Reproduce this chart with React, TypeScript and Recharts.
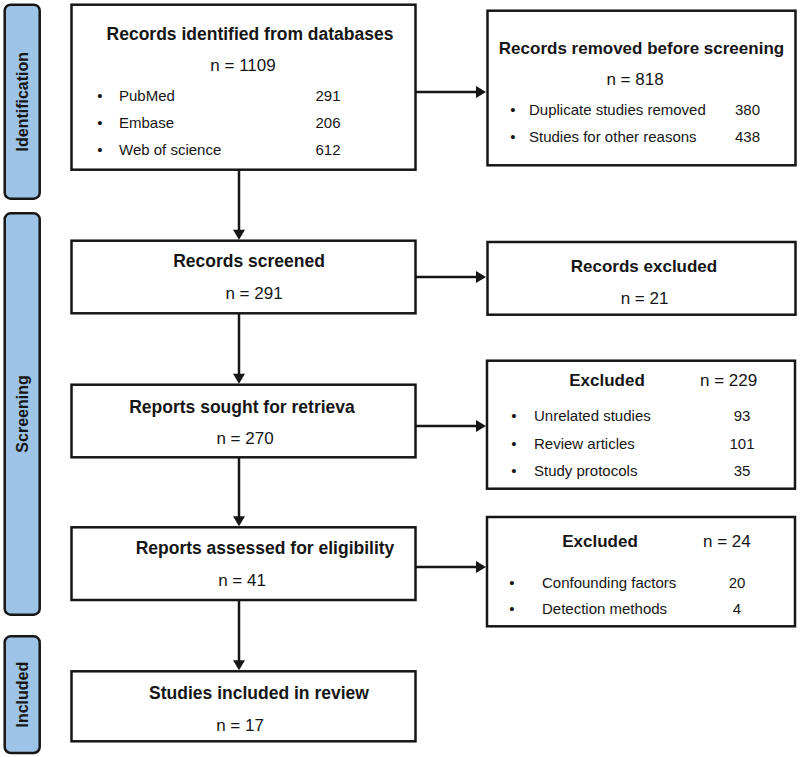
import React from 'react';
import { ComposedChart, XAxis, YAxis, ReferenceArea, ReferenceLine, Rectangle } from 'recharts';

const FONT = '"Liberation Sans", Arial, Helvetica, sans-serif';
const INK = '#161616';
const BAND = '#9dc3e6';

// ---- content ----
const stages = ['Identification', 'Screening', 'Included'];

const mainTitles = [
    'Records identified from databases',
    'Records screened',
    'Reports sought for retrieva',
    'Reports assessed for eligibility',
    'Studies included in review',
];
const mainCounts = [1109, 291, 270, 41, 17];

const sourceNames = ['PubMed', 'Embase', 'Web of science'];
const sourceCounts = [291, 206, 612];

const sideTitles = ['Records removed before screening', 'Records excluded', 'Excluded', 'Excluded'];
const sideCounts = [818, 21, 229, 24];

const removedReasons = ['Duplicate studies removed', 'Studies for other reasons'];
const removedCounts = [380, 438];
const retrievalReasons = ['Unrelated studies', 'Review articles', 'Study protocols'];
const retrievalCounts = [93, 101, 35];
const eligibilityReasons = ['Confounding factors', 'Detection methods'];
const eligibilityCounts = [20, 4];

// ---- layout (chart units == pixels) ----
const W = 800;
const H = 757;
const mainX = [71.5, 415.5];
const mainRows = [[4.7, 169.7], [240.7, 313.3], [384.7, 457.3], [527.3, 600], [671.3, 741.3]];
const sideX = [487.5, 795.5];
const sideRows = [[10.7, 165.3], [242, 314.7], [360.7, 488.7], [517, 626.3]];
const stageX = [4.7, 39.7];
const stageRows = [[4.7, 198.7], [213.3, 614.7], [636.3, 753]];
const flowX = 239;
const exitY = [92, 277, 426, 567];

const mainText = [
    { dx: 6.5, ty: 29, nx: -0.5, ny: 61 },
    { dx: 5.5, ty: 20.5, nx: 10.5, ny: 52.5 },
    { dx: -1.5, ty: 22, nx: 1.5, ny: 53.5 },
    { dx: 21.5, ty: 21, nx: -1.5, ny: 53 },
    { dx: 15.5, ty: 22, nx: -3.5, ny: 54 },
];
const sideText = [
    { tx: 0, ty: 38, nx: -6.5, ny: 69, inline: false, bx: 25.5, lx: 41.5, vx: 260, by: 99, step: 27 },
    { tx: 2.5, ty: 24, nx: 3, ny: 56, inline: false, bx: 0, lx: 0, vx: 0, by: 0, step: 0 },
    { tx: 120, ty: 19.5, nx: 213, ny: 19.5, inline: true, bx: 27, lx: 47, vx: 255, by: 55, step: 27.5 },
    { tx: 113, ty: 24, nx: 216, ny: 24, inline: true, bx: 25, lx: 55, vx: 250, by: 65, step: 26 },
];
const sideLists = [
    [removedReasons, removedCounts],
    [[], []],
    [retrievalReasons, retrievalCounts],
    [eligibilityReasons, eligibilityCounts],
];

const txt = { fontFamily: FONT, fill: INK, dominantBaseline: 'central' as const };

function StageBand(props: any) {
    const { x, y, width, height, name } = props;
    const cx = x + width / 2;
    const cy = y + height / 2;
    return (
        <g>
            <Rectangle x={x} y={y} width={width} height={height} radius={6} fill={BAND} stroke={INK} strokeWidth={2.5} />
            <text {...txt} x={cx} y={cy} textAnchor="middle" fontSize={16} fontWeight="bold"
                  transform={`rotate(-90 ${cx} ${cy})`}>{name}</text>
        </g>
    );
}

function BulletRow(props: any) {
    const { x, y, bx, lx, vx, label, value } = props;
    return (
        <g>
            <text {...txt} x={x + bx} y={y} fontSize={15} textAnchor="middle">•</text>
            <text {...txt} x={x + lx} y={y} fontSize={15}>{label}</text>
            <text {...txt} x={x + vx} y={y} fontSize={15} textAnchor="middle">{value}</text>
        </g>
    );
}

function MainBox(props: any) {
    const { x, y, width, height, idx } = props;
    const t = mainText[idx];
    const cx = x + width / 2;
    return (
        <g>
            <rect x={x} y={y} width={width} height={height} fill="#fff" stroke={INK} strokeWidth={2.5} />
            <text {...txt} x={cx + t.dx} y={y + t.ty} textAnchor="middle" fontSize={17.5} fontWeight="bold">{mainTitles[idx]}</text>
            <text {...txt} x={cx + t.nx} y={y + t.ny} textAnchor="middle" fontSize={17}>{`n = ${mainCounts[idx]}`}</text>
            {idx === 0 && sourceNames.map((s, k) => (
                <BulletRow key={s} x={x} y={y + 91 + 27 * k} bx={28.5} lx={47.5} vx={256.5} label={s} value={sourceCounts[k]} />
            ))}
        </g>
    );
}

function SideBox(props: any) {
    const { x, y, width, height, idx } = props;
    const t = sideText[idx];
    const [labels, values] = sideLists[idx] as [string[], number[]];
    const cx = x + width / 2;
    return (
        <g>
            <rect x={x} y={y} width={width} height={height} fill="#fff" stroke={INK} strokeWidth={2.5} />
            <text {...txt} x={t.inline ? x + t.tx : cx + t.tx} y={y + t.ty} textAnchor="middle" fontSize={17} fontWeight="bold">{sideTitles[idx]}</text>
            <text {...txt} x={t.inline ? x + t.nx : cx + t.nx} y={y + t.ny} textAnchor={t.inline ? 'start' : 'middle'} fontSize={17}>{`n = ${sideCounts[idx]}`}</text>
            {labels.map((s, k) => (
                <BulletRow key={s} x={x} y={y + t.by + t.step * k} bx={t.bx} lx={t.lx} vx={t.vx} label={s} value={values[k]} />
            ))}
        </g>
    );
}

function Arrow(props: any) {
    const { x1, y1, x2, y2 } = props;
    const len = Math.hypot(x2 - x1, y2 - y1) || 1;
    const ux = (x2 - x1) / len;
    const uy = (y2 - y1) / len;
    const hl = 10;
    const hw = 6;
    const bx = x2 - ux * hl;
    const by = y2 - uy * hl;
    return (
        <g>
            <line x1={x1} y1={y1} x2={bx + ux} y2={by + uy} stroke={INK} strokeWidth={2.5} />
            <polygon points={`${x2},${y2} ${bx - uy * hw},${by + ux * hw} ${bx + uy * hw},${by - ux * hw}`} fill={INK} />
        </g>
    );
}

export default function App() {
    return (
        <div style={{ position: 'absolute', left: 0, top: 0, width: W, height: H, background: '#fff' }}>
            <ComposedChart width={W} height={H} margin={{ top: 0, right: 0, bottom: 0, left: 0 }}>
                <XAxis type="number" dataKey="x" domain={[0, W]} hide allowDataOverflow />
                <YAxis type="number" dataKey="y" domain={[0, H]} reversed hide allowDataOverflow />

                {stageRows.map((r, i) => (
                    <ReferenceArea key={`st${i}`} x1={stageX[0]} x2={stageX[1]} y1={r[0]} y2={r[1]}
                                   ifOverflow="visible" shape={(p: any) => <StageBand {...p} name={stages[i]} />} />
                ))}

                {mainRows.slice(0, -1).map((r, i) => (
                    <ReferenceLine key={`dn${i}`} ifOverflow="visible"
                                   segment={[{ x: flowX, y: r[1] }, { x: flowX, y: mainRows[i + 1][0] - 1 }]}
                                   shape={(p: any) => <Arrow {...p} />} />
                ))}
                {exitY.map((y, i) => (
                    <ReferenceLine key={`ex${i}`} ifOverflow="visible"
                                   segment={[{ x: mainX[1], y }, { x: sideX[0] - 1.5, y }]}
                                   shape={(p: any) => <Arrow {...p} />} />
                ))}

                {mainRows.map((r, i) => (
                    <ReferenceArea key={`m${i}`} x1={mainX[0]} x2={mainX[1]} y1={r[0]} y2={r[1]}
                                   ifOverflow="visible" shape={(p: any) => <MainBox {...p} idx={i} />} />
                ))}
                {sideRows.map((r, i) => (
                    <ReferenceArea key={`s${i}`} x1={i >= 2 ? sideX[0] - 0.5 : sideX[0]} x2={i >= 2 ? sideX[1] - 0.5 : sideX[1]}
                                   y1={r[0]} y2={r[1]}
                                   ifOverflow="visible" shape={(p: any) => <SideBox {...p} idx={i} />} />
                ))}
            </ComposedChart>
        </div>
    );
}
